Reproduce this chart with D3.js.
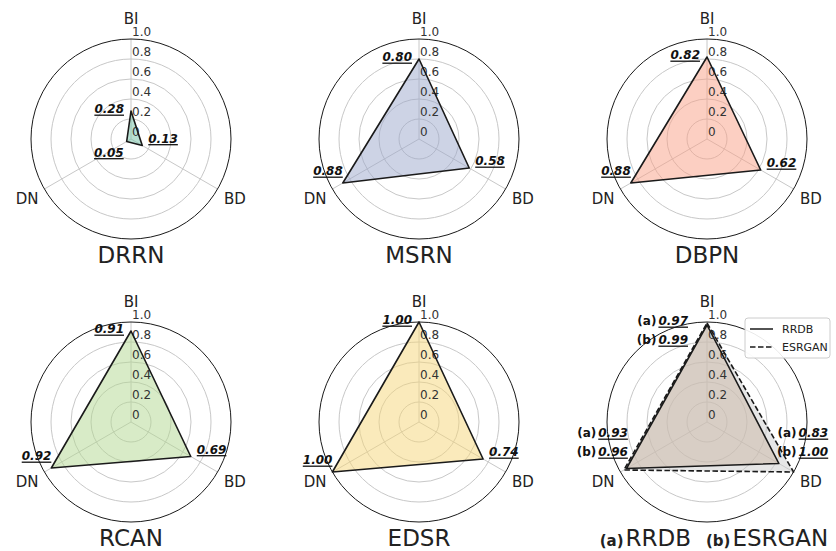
<!DOCTYPE html>
<html>
<head>
<meta charset="utf-8">
<script src="https://cdn.jsdelivr.net/npm/d3@7"></script>
<style>
  body { margin: 0; background: #fff; }
  svg { display: block; }
  text { font-family: "DejaVu Sans", sans-serif; }
</style>
</head>
<body>
<div id="chart"></div>
<script>
// radar axes, clockwise from the top
const axisNames = ["BI", "BD", "DN"];
const tickValues = [0, 0.2, 0.4, 0.6, 0.8, 1.0];
const tickLabels = ["0", "0.2", "0.4", "0.6", "0.8", "1.0"];

// scores per model
const models = ["DRRN", "MSRN", "DBPN", "RCAN", "EDSR", "RRDB", "ESRGAN"];
const scoreBI = [0.28, 0.80, 0.82, 0.91, 1.00, 0.97, 0.99];
const scoreBD = [0.13, 0.58, 0.62, 0.69, 0.74, 0.83, 1.00];
const scoreDN = [0.05, 0.88, 0.88, 0.92, 1.00, 0.93, 0.96];

// models drawn together in one panel (reading order)
const panels = [["DRRN"], ["MSRN"], ["DBPN"], ["RCAN"], ["EDSR"], ["RRDB", "ESRGAN"]];
const panelTags = ["(a)", "(b)"];

const W = 836, H = 551, R = 100;
const colX = [131, 419, 707], rowY = [139, 422];

const color = d3.scaleOrdinal()
    .domain(models)
    .range(["#71c1a5", "#9ba7cb", "#f99f85", "#b1d78f", "#f5d577", "#c9b5a4", "#cdcdcd"]);

const rScale = d3.scaleLinear().domain([0, 1]).range([0, R]);
const angle = d3.scaleOrdinal().domain(axisNames).range([0, 2 * Math.PI / 3, 4 * Math.PI / 3]);

function seriesOf(model) {
    const i = models.indexOf(model);
    return [
        { axis: "BI", value: scoreBI[i] },
        { axis: "BD", value: scoreBD[i] },
        { axis: "DN", value: scoreDN[i] }
    ];
}
const px = d => rScale(d.value) * Math.sin(angle(d.axis));
const py = d => -rScale(d.value) * Math.cos(angle(d.axis));

const radarLine = d3.lineRadial()
    .angle(d => angle(d.axis))
    .radius(d => rScale(d.value))
    .curve(d3.curveLinearClosed);

const svg = d3.select("#chart").append("svg")
    .attr("width", W)
    .attr("height", H);
svg.append("rect").attr("width", W).attr("height", H).attr("fill", "#fff");

const LABEL_FONT = 12;

// bold italic underlined value; anchor "start" or "end"
function valueText(g, x, y, txt, anchor) {
    const t = g.append("text")
        .attr("x", x).attr("y", y)
        .attr("text-anchor", anchor)
        .attr("font-size", LABEL_FONT)
        .attr("font-weight", "bold")
        .attr("font-style", "italic")
        .attr("fill", "#111")
        .text(txt);
    const w = t.node().getComputedTextLength();
    const x0 = anchor === "end" ? x - w : x;
    g.append("line")
        .attr("x1", x0).attr("x2", x0 + w)
        .attr("y1", y + 2.2).attr("y2", y + 2.2)
        .attr("stroke", "#111").attr("stroke-width", 1.3);
    return { x0: x0, w: w };
}

panels.forEach((group, k) => {
    const cx = colX[k % 3], cy = rowY[Math.floor(k / 3)];
    const g = svg.append("g").attr("transform", `translate(${cx},${cy})`);

    // rings
    g.selectAll("circle.ring")
        .data(tickValues.filter(v => v > 0 && v < 1))
        .enter().append("circle")
        .attr("r", d => rScale(d))
        .attr("fill", "none")
        .attr("stroke", "#c8c8c8")
        .attr("stroke-width", 1);

    // spokes
    g.selectAll("line.spoke")
        .data(axisNames)
        .enter().append("line")
        .attr("x1", 0).attr("y1", 0)
        .attr("x2", a => rScale(1) * Math.sin(angle(a)))
        .attr("y2", a => -rScale(1) * Math.cos(angle(a)))
        .attr("stroke", "#c8c8c8")
        .attr("stroke-width", 1);

    // outer frame
    g.append("circle")
        .attr("r", rScale(1))
        .attr("fill", "none")
        .attr("stroke", "#1a1a1a")
        .attr("stroke-width", 1);

    // axis names
    g.selectAll("text.axis")
        .data(axisNames)
        .enter().append("text")
        .attr("x", a => 1.2 * R * Math.sin(angle(a)))
        .attr("y", a => -1.2 * R * Math.cos(angle(a)))
        .attr("text-anchor", "middle")
        .attr("dominant-baseline", "central")
        .attr("font-size", 15)
        .attr("fill", "#222")
        .text(a => a);

    // fills: last series underneath
    const order = group.map((m, i) => i).reverse();
    order.forEach(i => {
        g.append("path")
            .datum(seriesOf(group[i]))
            .attr("d", radarLine)
            .attr("fill", color(group[i]))
            .attr("fill-opacity", 0.5)
            .attr("stroke", "none");
    });

    // radial tick labels up the BI spoke
    g.selectAll("text.tick")
        .data(tickValues)
        .enter().append("text")
        .attr("x", 1)
        .attr("y", (d) => -rScale(d) - 3)
        .attr("font-size", 12)
        .attr("fill", "#333")
        .text((d, i) => tickLabels[i]);

    // outlines
    order.forEach(i => {
        g.append("path")
            .datum(seriesOf(group[i]))
            .attr("d", radarLine)
            .attr("fill", "none")
            .attr("stroke", "#1a1a1a")
            .attr("stroke-width", 1.6)
            .attr("stroke-linejoin", "round")
            .attr("stroke-dasharray", i === 1 ? "5.5,2.5" : null);
    });

    if (group.length === 1) {
        seriesOf(group[0]).forEach(d => {
            const x = px(d), y = py(d), txt = d.value.toFixed(2);
            if (d.axis === "BI") valueText(g, x - 7, y + 2, txt, "end");
            else if (d.axis === "BD") valueText(g, x + 6, y - 3, txt, "start");
            else if (d.value < 0.2) valueText(g, x - 3, y + 15, txt, "end");
            else valueText(g, x, y - 8, txt, "end");
        });

        g.append("text")
            .attr("x", 0).attr("y", 124)
            .attr("text-anchor", "middle")
            .attr("font-size", 23)
            .attr("fill", "#222")
            .text(group[0]);
    } else {
        const data = group.map(seriesOf);
        axisNames.forEach(a => {
            const pts = data.map(s => s.find(d => d.axis === a));
            const outer = pts.reduce((m, d) => d.value > m.value ? d : m);
            const ox = px(outer), oy = py(outer);
            pts.forEach((d, i) => {
                const txt = d.value.toFixed(2);
                const y = (a === "BI" ? oy + 2 : a === "BD" ? oy - 35 : oy - 33) + 19 * i;
                let v;
                if (a === "BI") v = valueText(g, -19, y, txt, "end");
                else if (a === "BD") v = valueText(g, ox + 5, y, txt, "start");
                else v = valueText(g, ox + 4, y, txt, "end");
                g.append("text")
                    .attr("x", v.x0 - 2)
                    .attr("y", y)
                    .attr("text-anchor", "end")
                    .attr("font-size", LABEL_FONT)
                    .attr("font-weight", "bold")
                    .attr("fill", "#111")
                    .text(panelTags[i]);
            });
        });

        // legend
        const lg = g.append("g").attr("transform", "translate(38,-104)");
        lg.append("rect")
            .attr("width", 85).attr("height", 40).attr("rx", 3)
            .attr("fill", "#fff").attr("fill-opacity", 0.9)
            .attr("stroke", "#cccccc");
        group.forEach((model, i) => {
            lg.append("line")
                .attr("x1", 5).attr("x2", 28)
                .attr("y1", 11 + 18 * i).attr("y2", 11 + 18 * i)
                .attr("stroke", "#1a1a1a").attr("stroke-width", 1.5)
                .attr("stroke-dasharray", i === 1 ? "5.5,2.5" : null);
            lg.append("text")
                .attr("x", 37).attr("y", 15 + 18 * i)
                .attr("font-size", 11)
                .attr("fill", "#222")
                .text(model);
        });

        // title with tags
        const title = g.append("text")
            .attr("x", 7).attr("y", 124)
            .attr("text-anchor", "middle")
            .attr("fill", "#222");
        group.forEach((model, i) => {
            title.append("tspan")
                .attr("font-size", 15).attr("font-weight", "bold")
                .attr("dx", i === 0 ? 0 : 15)
                .text(panelTags[i]);
            title.append("tspan")
                .attr("font-size", 23)
                .attr("dx", 2)
                .text(model);
        });
    }
});
</script>
</body>
</html>
